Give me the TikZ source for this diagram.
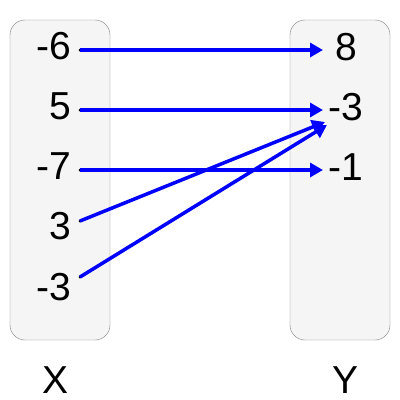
\documentclass[tikz,border=0pt]{standalone}
\usepackage{fontspec}
\setmainfont{Liberation Sans}
\usetikzlibrary{arrows.meta}
\begin{document}
\begin{tikzpicture}[x=1pt,y=-1pt,
setbox/.style={draw=gray,fill=gray!8,rounded corners=15pt},
num/.style={font=\fontsize{39}{46}\selectfont,inner sep=0pt},
maparrow/.style={blue,line width=3.5pt,-{Triangle[length=13pt,width=14pt]}}]
\useasboundingbox (0,0) rectangle (400,400);
\draw[setbox] (10,20) rectangle (110,340);
\draw[setbox] (290,20) rectangle (390,340);
% domain and range values
\foreach \v/\y/\n in {-6/46/1,5/106/2,-7/166/3,3/226/4,-3/287/5}\node[num,anchor=east] (x\n) at (71,\y) {\v};
\foreach \v/\x/\y/\n in {8/335/47/1,-3/328/107/2,-1/328/167/3}\node[num,anchor=west] (y\n) at (\x,\y) {\v};
\node[num] (setx) at (56,380) {X};
\node[num] (sety) at (346,380) {Y};
% start points and tips
\foreach \y/\n in {50/1,110/2,170/3,221/4,277/5}\coordinate (px\n) at (80,\y);
\coordinate (ty1) at (323,50);
\coordinate (ty2) at (323,110);
\coordinate (ty3) at (323,170);
\coordinate (ty4) at (325,122);
\coordinate (ty5) at (327,125);
\foreach \n in {1,...,5}\fill (px\n) circle (1.5pt);
\draw[maparrow] (px1) -- (ty1);
\draw[maparrow] (px2) -- (ty2);
\draw[maparrow] (px3) -- (ty3);
\draw[maparrow] (px4) -- (ty4);
\draw[maparrow] (px5) -- (ty5);

\end{tikzpicture}
\end{document}
